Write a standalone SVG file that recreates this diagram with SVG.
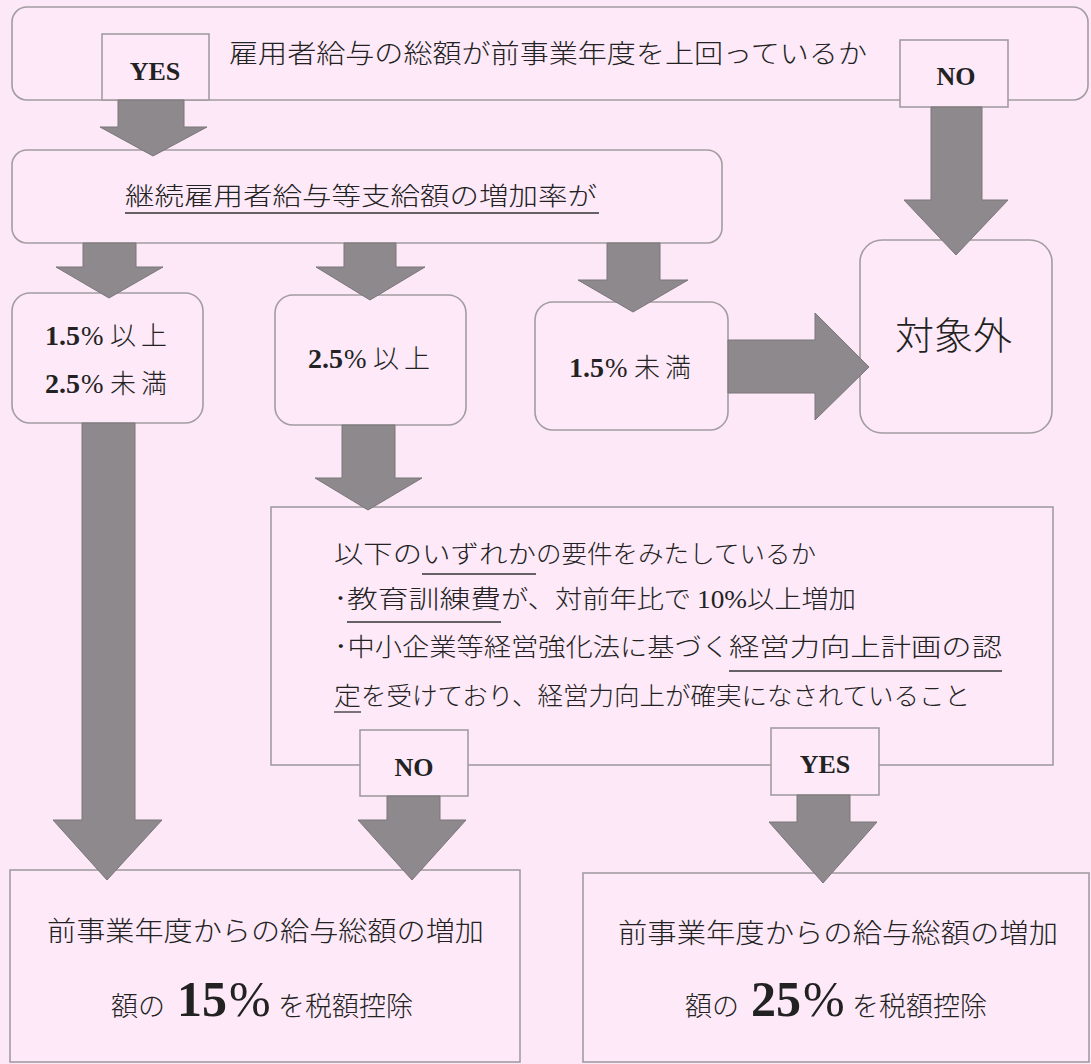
<svg xmlns="http://www.w3.org/2000/svg" width="1091" height="1064" viewBox="0 0 1091 1064">
<defs>
<style>
.bg{fill:#fce8f7}
.box{fill:#fde9f8;stroke:#a39ca1;stroke-width:1.6}
.lbl{fill:#fde9f8;stroke:#a39ca1;stroke-width:1.6}
.arr{fill:#8d898c;stroke:#7a7679;stroke-width:1}
.jp{font-family:"Noto Sans CJK JP","Noto Sans CJK SC",sans-serif;font-weight:300;fill:#222}
.ser{font-family:"Liberation Serif",serif;font-weight:normal;fill:#222}
.b{font-weight:bold}
.ul{stroke:#333;stroke-width:1.3}
</style>
</defs>
<rect class="bg" x="0" y="0" width="1091" height="1064"/>

<g id="node-q1">
<rect class="box" x="12" y="7" width="1076" height="93" rx="15"/>
<text class="jp" x="229" y="63" font-size="26" textLength="638" lengthAdjust="spacingAndGlyphs">雇用者給与の総額が前事業年度を上回っているか</text>
</g>
<g id="node-q1-yes">
<rect class="lbl" x="102" y="34" width="107" height="66"/>
<text class="ser b" x="155" y="80" font-size="26" text-anchor="middle">YES</text>
</g>
<g id="node-q1-no">
<rect class="lbl" x="900" y="40" width="108" height="67"/>
<text class="ser b" x="956" y="85" font-size="26" text-anchor="middle">NO</text>
</g>

<g id="node-q2">
<rect class="box" x="12" y="150" width="710" height="93" rx="15"/>
<text class="jp" x="125" y="205" font-size="25" textLength="472" lengthAdjust="spacingAndGlyphs">継続雇用者給与等支給額の増加率が</text>
<line class="ul" x1="125" y1="213" x2="599" y2="213"/>
</g>

<g id="node-r1">
<rect class="box" x="12" y="293" width="191" height="130" rx="18"/>
<text y="345"><tspan class="ser b" x="45" font-size="28">1.5</tspan><tspan class="ser" x="81" font-size="27">%</tspan><tspan class="jp" x="110" font-size="26" letter-spacing="5">以上</tspan></text>
<text y="393"><tspan class="ser b" x="45" font-size="28">2.5</tspan><tspan class="ser" x="81" font-size="27">%</tspan><tspan class="jp" x="110" font-size="26" letter-spacing="5">未満</tspan></text>
</g>
<g id="node-r2">
<rect class="box" x="275" y="295" width="191" height="130" rx="18"/>
<text y="368"><tspan class="ser b" x="308" font-size="28">2.5</tspan><tspan class="ser" x="344" font-size="27">%</tspan><tspan class="jp" x="373" font-size="26" letter-spacing="5">以上</tspan></text>
</g>
<g id="node-r3">
<rect class="box" x="535" y="302" width="193" height="128" rx="18"/>
<text y="377"><tspan class="ser b" x="569" font-size="28">1.5</tspan><tspan class="ser" x="605" font-size="27">%</tspan><tspan class="jp" x="634" font-size="26" letter-spacing="5">未満</tspan></text>
</g>
<g id="node-out">
<rect class="box" x="860" y="240" width="192" height="193" rx="22"/>
<text class="jp" x="895" y="349" font-size="38" textLength="117" lengthAdjust="spacingAndGlyphs">対象外</text>
</g>

<g id="node-q3">
<rect class="box" x="271" y="507" width="782" height="258"/>
<text class="jp" x="334" y="563" font-size="25" textLength="88" lengthAdjust="spacingAndGlyphs">以下の</text>
<text class="jp" x="422" y="563" font-size="25" textLength="114" lengthAdjust="spacingAndGlyphs">いずれか</text>
<text class="jp" x="536" y="563" font-size="25" textLength="280" lengthAdjust="spacingAndGlyphs">の要件をみたしているか</text>
<line class="ul" x1="422" y1="574" x2="536" y2="574"/>
<text class="jp" x="334" y="608" font-size="25" textLength="13" lengthAdjust="spacingAndGlyphs">･</text>
<text class="jp" x="347" y="608" font-size="25" textLength="154" lengthAdjust="spacingAndGlyphs">教育訓練費</text>
<text class="jp" x="501" y="608" font-size="25" textLength="355" lengthAdjust="spacingAndGlyphs">が、対前年比で <tspan class="ser">10%</tspan>以上増加</text>
<line class="ul" x1="347" y1="622" x2="501" y2="622"/>
<text class="jp" x="334" y="656" font-size="25" textLength="395" lengthAdjust="spacingAndGlyphs">･中小企業等経営強化法に基づく</text>
<text class="jp" x="729" y="656" font-size="25" textLength="273" lengthAdjust="spacingAndGlyphs">経営力向上計画の認</text>
<line class="ul" x1="729" y1="671" x2="1002" y2="671"/>
<text class="jp" x="334" y="705" font-size="25" textLength="27" lengthAdjust="spacingAndGlyphs">定</text>
<text class="jp" x="361" y="705" font-size="25" textLength="609" lengthAdjust="spacingAndGlyphs">を受けており、経営力向上が確実になされていること</text>
<line class="ul" x1="334" y1="712" x2="361" y2="712"/>
</g>
<g id="node-q3-no">
<rect class="lbl" x="360" y="730" width="108" height="66"/>
<text class="ser b" x="414" y="776" font-size="26" text-anchor="middle">NO</text>
</g>
<g id="node-q3-yes">
<rect class="lbl" x="771" y="728" width="108" height="67"/>
<text class="ser b" x="825" y="773" font-size="26" text-anchor="middle">YES</text>
</g>

<g id="node-res15">
<rect class="box" x="10" y="870" width="510" height="192"/>
<text class="jp" x="47" y="941" font-size="27" textLength="437" lengthAdjust="spacingAndGlyphs">前事業年度からの給与総額の増加</text>
<text y="1016"><tspan class="jp" x="111" font-size="27">額の</tspan><tspan class="ser b" x="177" font-size="50">15</tspan><tspan class="ser" x="229" font-size="50">%</tspan><tspan class="jp" x="278" font-size="27">を税額控除</tspan></text>
</g>
<g id="node-res25">
<rect class="box" x="583" y="873" width="506" height="189"/>
<text class="jp" x="618" y="943" font-size="27" textLength="440" lengthAdjust="spacingAndGlyphs">前事業年度からの給与総額の増加</text>
<text y="1016"><tspan class="jp" x="685" font-size="27">額の</tspan><tspan class="ser b" x="751" font-size="50">25</tspan><tspan class="ser" x="803" font-size="50">%</tspan><tspan class="jp" x="852" font-size="27">を税額控除</tspan></text>
</g>

<g id="connectors">
<polygon class="arr" points="118,100 184,100 184,127 207,127 153,156 100,127 118,127"/>
<polygon class="arr" points="931,107 982,107 982,200 1008,200 956,255 904,200 931,200"/>
<polygon class="arr" points="83,243 136,243 136,267 163,267 109,298 56,267 83,267"/>
<polygon class="arr" points="344,243 396,243 396,267 425,267 370,300 316,267 344,267"/>
<polygon class="arr" points="607,243 660,243 660,280 688,280 633,312 578,280 607,280"/>
<polygon class="arr" points="728,340 815,340 815,313 869,367 815,420 815,393 728,393"/>
<polygon class="arr" points="342,425 395,425 395,478 422,478 368,510 315,478 342,478"/>
<polygon class="arr" points="82,423 135,423 135,820 162,820 107,880 53,820 82,820"/>
<polygon class="arr" points="387,796 440,796 440,820 466,820 412,880 358,820 387,820"/>
<polygon class="arr" points="797,795 850,795 850,822 877,822 823,883 769,822 797,822"/>
</g>
</svg>
